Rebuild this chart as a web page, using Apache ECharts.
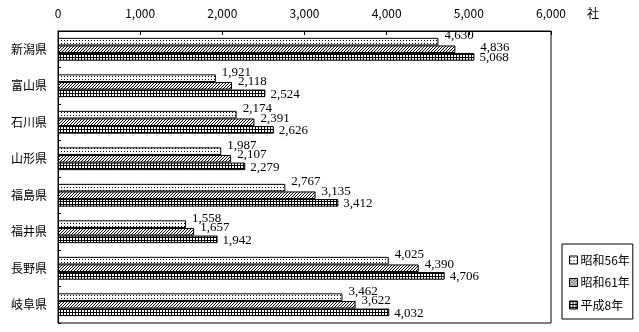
<!DOCTYPE html>
<html>
<head>
<meta charset="utf-8">
<script src="https://cdn.jsdelivr.net/npm/echarts@6/dist/echarts.min.js"></script>
<style>
html,body{margin:0;padding:0;background:#fff;}
#chart{width:639px;height:332px;}
</style>
</head>
<body>
<div id="chart"></div>
<script>
// ---- data ----
const categories = ['新潟県','富山県','石川県','山形県','福島県','福井県','長野県','岐阜県'];
const seriesNames = ['昭和56年','昭和61年','平成8年'];
const valuesS56 = [4630,1921,2174,1987,2767,1558,4025,3462];
const valuesS61 = [4836,2118,2391,2107,3135,1657,4390,3622];
const valuesH8  = [5068,2524,2626,2279,3412,1942,4706,4032];
const axisMin = 0, axisMax = 6000, axisInterval = 1000;
const unitLabel = '社';

// ---- patterns ----
function pattern(w, h, draw) {
  const c = document.createElement('canvas');
  c.width = w; c.height = h;
  const ctx = c.getContext('2d');
  ctx.fillStyle = '#fff'; ctx.fillRect(0, 0, w, h);
  ctx.fillStyle = '#000';
  draw(ctx);
  return { image: c, repeat: 'repeat' };
}
const dotPat = pattern(3, 3, ctx => ctx.fillRect(1, 1, 1, 1));
const hatchPat = pattern(3, 3, ctx => { ctx.fillRect(2,0,1,1); ctx.fillRect(1,1,1,1); ctx.fillRect(0,2,1,1); });
const gridPat = pattern(3, 3, ctx => { ctx.fillRect(0,0,3,1); ctx.fillRect(0,0,1,3); });
const patterns = [dotPat, hatchPat, gridPat];

const gridLeft = 58, gridTop = 31, gridWidth = 493, gridHeight = 292;
const pxPerUnit = gridWidth / (axisMax - axisMin);

const fmt = v => v.toLocaleString('en-US');
const labelFont = { fontFamily: 'Liberation Serif', fontSize: 13, color: '#000' };
const labelOffsets = [[0, -6], [0, -4], [0, 1]];
const allValues = [valuesS56, valuesS61, valuesH8];

function buildData(si) {
  const vals = allValues[si];
  return vals.map((v, i) => {
    const item = { value: v };
    // 2nd-series label pushed past the longer 3rd bar when they would collide
    if (si === 1 && valuesH8[i] - v > 150 && valuesH8[i] - v < 300 && i === 0) {
      item.label = { offset: [Math.round((valuesH8[i] - v) * pxPerUnit), -2] };
    }
    return item;
  });
}

const series = seriesNames.map((name, si) => ({
  name,
  type: 'bar',
  barWidth: 7.6,
  barGap: '0%',
  data: buildData(si),
  itemStyle: { color: patterns[si], borderColor: '#000', borderWidth: 1 },
  label: Object.assign({
    show: true,
    position: 'right',
    distance: si === 2 ? 5 : 6,
    offset: labelOffsets[si],
    formatter: p => fmt(p.value)
  }, labelFont),
  emphasis: { disabled: true },
  animation: false
}));

const chart = echarts.init(document.getElementById('chart'), null, { renderer: 'canvas' });
chart.setOption({
  backgroundColor: '#fff',
  animation: false,
  textStyle: { fontFamily: 'Noto Sans CJK JP', color: '#000' },
  grid: {
    left: gridLeft, top: gridTop, width: gridWidth, height: gridHeight,
    show: true, borderColor: '#000', borderWidth: 1, backgroundColor: 'transparent'
  },
  legend: {
    orient: 'vertical',
    left: 562, top: 244,
    padding: [10, 3, 8, 7],
    itemGap: 10.5,
    itemWidth: 8, itemHeight: 8,
    itemStyle: { borderColor: '#000', borderWidth: 1 },
    borderColor: '#000', borderWidth: 1,
    icon: 'rect',
    textStyle: { fontFamily: 'Noto Sans CJK JP', fontSize: 12, color: '#000', lineHeight: 12, padding: [0,0,0,-2] },
    data: seriesNames
  },
  xAxis: {
    type: 'value',
    position: 'top',
    min: axisMin, max: axisMax, interval: axisInterval,
    name: unitLabel,
    nameLocation: 'end',
    nameGap: 36,
    nameTextStyle: { fontFamily: 'Noto Sans CJK JP', fontSize: 12, color: '#000', verticalAlign: 'bottom', padding: [0, 0, 12, 0] },
    axisLine: { show: true, lineStyle: { color: '#000', width: 1 } },
    axisTick: { show: true, inside: true, length: 4, lineStyle: { color: '#000' } },
    axisLabel: { fontFamily: 'Noto Sans CJK JP', fontSize: 12, color: '#000', margin: 12, formatter: v => fmt(v) },
    splitLine: { show: false }
  },
  yAxis: {
    type: 'category',
    inverse: true,
    data: categories,
    axisLine: { show: true, lineStyle: { color: '#000', width: 1 } },
    axisTick: { show: true, inside: true, length: 3, lineStyle: { color: '#000' } },
    axisLabel: { fontFamily: 'Noto Sans CJK JP', fontSize: 12, color: '#000', margin: 11 },
    splitLine: { show: false }
  },
  series
});
</script>
</body>
</html>
